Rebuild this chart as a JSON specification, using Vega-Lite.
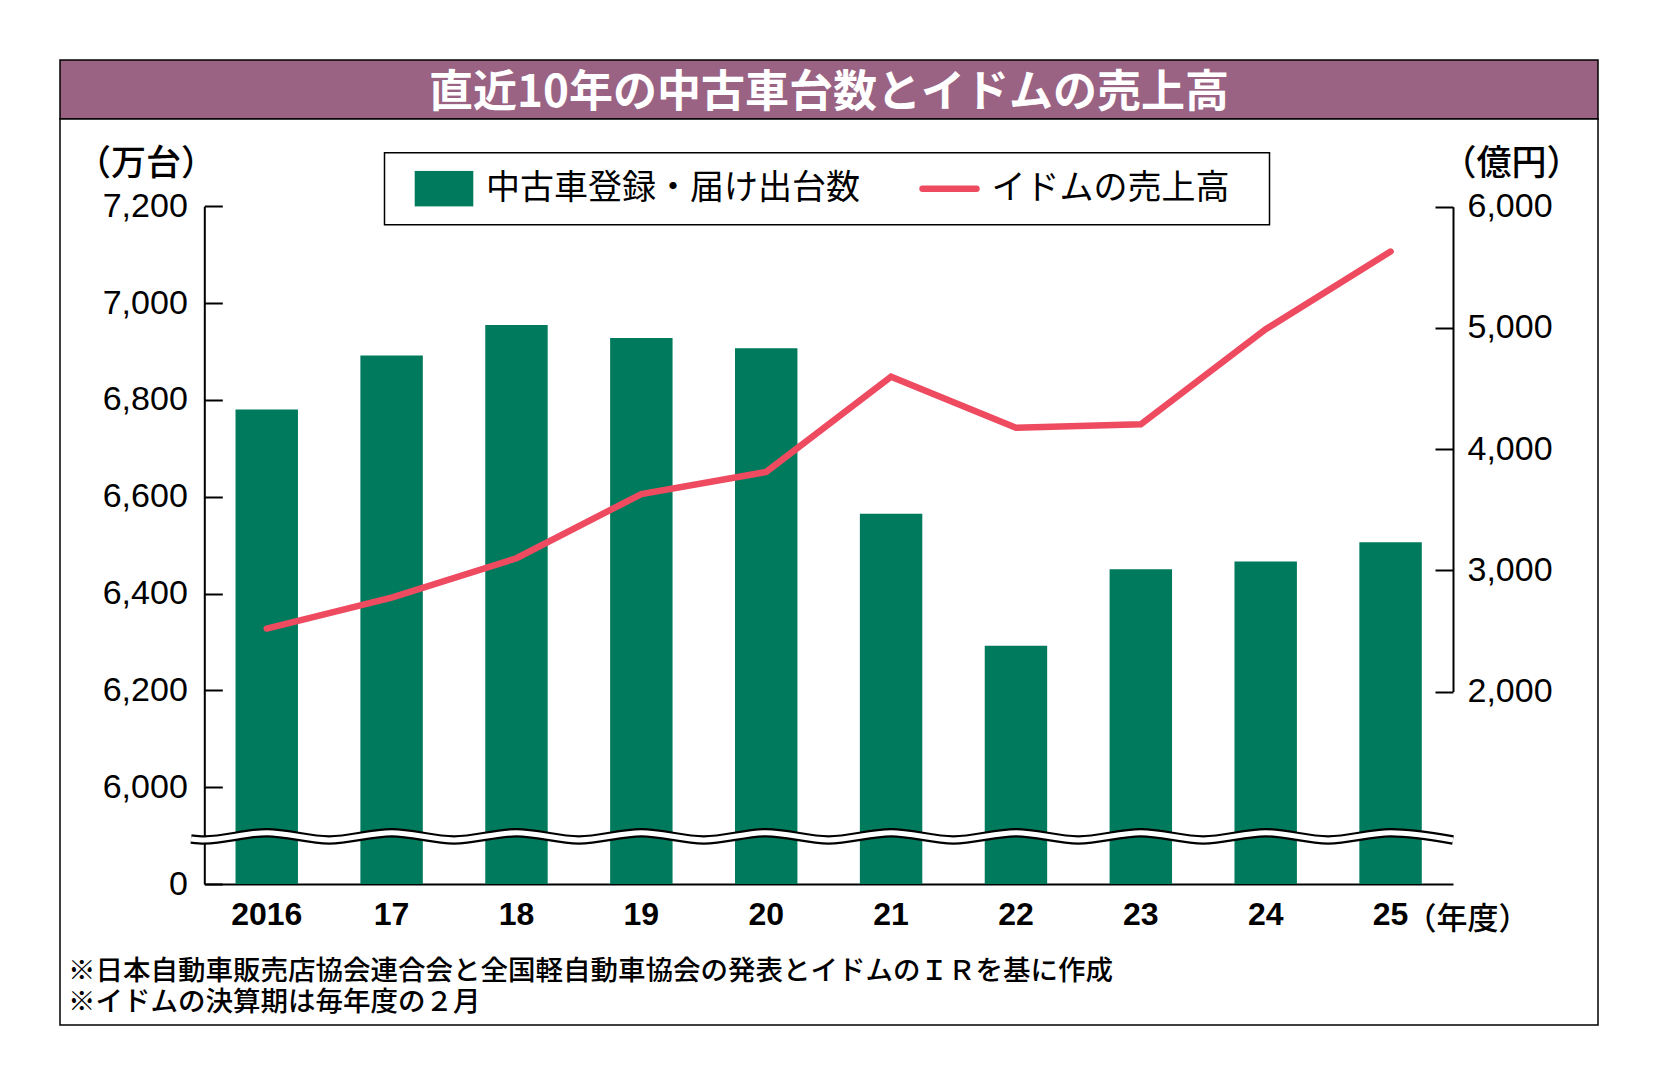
{
  "$schema": "https://vega.github.io/schema/vega-lite/v6.json",
  "background": "white",
  "padding": {"left": 59, "top": 59, "right": 57, "bottom": 63},
  "spacing": 0,
  "bounds": "flush",
  "resolve": {"scale": {"color": "independent"}, "legend": {"color": "independent"}},
  "config": {"font": "Noto Sans CJK JP", "view": {"stroke": null}},
  "vconcat": [
    {
      "width": 1538,
      "height": 59,
      "view": {"fill": "#9a6384", "stroke": "black", "strokeWidth": 1.5},
      "data": {"values": [{"t": "直近10年の中古車台数とイドムの売上高"}]},
      "mark": {
        "type": "text",
        "align": "center",
        "baseline": "middle",
        "dy": 4,
        "font": "Noto Sans CJK JP",
        "fontSize": 44,
        "fontWeight": "bold",
        "color": "white"
      },
      "encoding": {
        "x": {"datum": 0.5, "type": "quantitative", "scale": {"domain": [0, 1], "nice": false}, "axis": null},
        "y": {"datum": 0.5, "type": "quantitative", "scale": {"domain": [0, 1], "nice": false}, "axis": null},
        "text": {"field": "t"}
      }
    },
    {
      "width": 1538,
      "height": 906,
      "view": {"fill": "white", "stroke": "black", "strokeWidth": 1.5},
      "title": {
        "text": [
          "※日本自動車販売店協会連合会と全国軽自動車協会の発表とイドムのＩＲを基に作成",
          "※イドムの決算期は毎年度の２月"
        ],
        "orient": "bottom",
        "anchor": "start",
        "frame": "group",
        "offset": -67,
        "dx": 8,
        "baseline": "top",
        "font": "Liberation Sans, Noto Sans CJK JP",
        "fontSize": 27.5,
        "fontWeight": 500,
        "lineHeight": 31,
        "color": "black"
      },
      "data": {
        "values": [
          {"year": "2016", "cars": 6780, "sales": 2520},
          {"year": "2017", "cars": 6892, "sales": 2775},
          {"year": "2018", "cars": 6955, "sales": 3100},
          {"year": "2019", "cars": 6928, "sales": 3630},
          {"year": "2020", "cars": 6907, "sales": 3812},
          {"year": "2021", "cars": 6565, "sales": 4597},
          {"year": "2022", "cars": 6292, "sales": 4177},
          {"year": "2023", "cars": 6450, "sales": 4205},
          {"year": "2024", "cars": 6466, "sales": 4989},
          {"year": "2025", "cars": 6506, "sales": 5630}
        ]
      },
      "resolve": {"scale": {"x": "independent", "y": "independent"}},
      "layer": [
        {
          "mark": {"type": "bar"},
          "encoding": {
            "x": {
              "field": "year",
              "type": "nominal",
              "scale": {"type": "band", "range": [144.3, 1393], "paddingInner": 0.5, "paddingOuter": 0.25},
              "axis": {
                "orient": "bottom",
                "offset": -141,
                "ticks": false,
                "domainColor": "black",
                "domainWidth": 2,
                "labelAngle": 0,
                "labelExpr": "datum.label === '2016' ? '2016' : slice(datum.label, 2)",
                "labelFont": "Liberation Sans",
                "labelFontWeight": "bold",
                "labelFontSize": 32,
                "labelColor": "black",
                "labelPadding": 15,
                "labelFlush": false,
                "labelOverlap": false,
                "title": "（年度）",
                "titleX": 1407,
                "titleY": 35,
                "titleAlign": "center",
                "titleBaseline": "middle",
                "titleFont": "Noto Sans CJK JP",
                "titleFontSize": 31,
                "titleFontWeight": 500,
                "titleColor": "black"
              }
            },
            "y": {
              "field": "cars",
              "type": "quantitative",
              "scale": {"domain": [5800, 7200], "range": [765, 87.3], "zero": false, "nice": false},
              "axis": {
                "orient": "left",
                "offset": -144.3,
                "grid": false,
                "values": [5800, 6000, 6200, 6400, 6600, 6800, 7000, 7200],
                "labelExpr": "datum.value === 5800 ? '0' : format(datum.value, ',d')",
                "tickSize": -18,
                "tickWidth": 2,
                "tickColor": "black",
                "domainColor": "black",
                "domainWidth": 2,
                "labelFont": "Liberation Sans",
                "labelFontSize": 34,
                "labelColor": "black",
                "labelPadding": 35,
                "labelFlush": false,
                "labelOverlap": false,
                "title": "（万台）",
                "titleAngle": 0,
                "titleX": -58.8,
                "titleY": 44,
                "titleAlign": "center",
                "titleBaseline": "middle",
                "titleFont": "Noto Sans CJK JP",
                "titleFontSize": 35,
                "titleFontWeight": 500,
                "titleColor": "black"
              }
            },
            "y2": {"datum": 5800},
            "color": {
              "datum": "中古車登録・届け出台数",
              "type": "nominal",
              "scale": {"domain": ["中古車登録・届け出台数", "イドムの売上高"], "range": ["#007a5d", "#ee4b61"]},
              "legend": {
                "orient": "none",
                "legendX": 324.5,
                "legendY": 33.7,
                "direction": "horizontal",
                "title": "　",
                "titleOrient": "right",
                "titleFontSize": 10,
                "titlePadding": 22,
                "padding": 18,
                "symbolOffset": 8.5,
                "columnPadding": 47.5,
                "clipHeight": 36,
                "strokeColor": "black",
                "labelFont": "Noto Sans CJK JP",
                "labelFontSize": 34,
                "labelColor": "black",
                "labelLimit": 1000,
                "labelOffset": 9,
                "symbolSize": 3434,
                "symbolStrokeWidth": 6.5,
                "encode": {
                  "legend": {"update": {"strokeWidth": {"value": 1.5}}},
                  "symbols": {
                    "update": {
                      "shape": {"signal": "datum.value === 'イドムの売上高' ? 'M-0.92,0H0.92' : 'M-0.889,-0.498H0.889V0.498H-0.889Z'"},
                      "fill": {"signal": "datum.value === 'イドムの売上高' ? 'transparent' : '#007a5d'"},
                      "stroke": {"signal": "datum.value === 'イドムの売上高' ? '#ee4b61' : '#007a5d'"},
                      "strokeWidth": {"value": 6.5},
                      "strokeCap": {"value": "round"},
                      "opacity": {"value": 1}
                    }
                  }
                }
              }
            }
          }
        },
        {
          "data": {
            "values": [
              {"k": -0.606, "v": 5893},
              {"k": -0.5, "v": 5891},
              {"k": 0, "v": 5906},
              {"k": 0.5, "v": 5891},
              {"k": 1, "v": 5906},
              {"k": 1.5, "v": 5891},
              {"k": 2, "v": 5906},
              {"k": 2.5, "v": 5891},
              {"k": 3, "v": 5906},
              {"k": 3.5, "v": 5891},
              {"k": 4, "v": 5906},
              {"k": 4.5, "v": 5891},
              {"k": 5, "v": 5906},
              {"k": 5.5, "v": 5891},
              {"k": 6, "v": 5906},
              {"k": 6.5, "v": 5891},
              {"k": 7, "v": 5906},
              {"k": 7.5, "v": 5891},
              {"k": 8, "v": 5906},
              {"k": 8.5, "v": 5891},
              {"k": 9, "v": 5906},
              {"k": 9.5, "v": 5891}
            ]
          },
          "encoding": {
            "x": {"field": "k", "type": "quantitative", "scale": {"domain": [-0.5, 9.5], "range": [144.3, 1393], "zero": false, "nice": false}, "axis": null},
            "y": {"field": "v", "type": "quantitative", "scale": {"domain": [5800, 7200], "range": [765, 87.3], "zero": false, "nice": false}, "axis": null}
          },
          "layer": [
            {"mark": {"type": "line", "interpolate": "monotone", "color": "black", "strokeWidth": 9.5}},
            {"mark": {"type": "line", "interpolate": "monotone", "color": "white", "strokeWidth": 5}}
          ]
        },
        {
          "mark": {"type": "line", "strokeWidth": 6.5, "strokeCap": "round"},
          "encoding": {
            "x": {
              "field": "year",
              "type": "nominal",
              "scale": {"type": "band", "range": [144.3, 1393], "paddingInner": 0.5, "paddingOuter": 0.25},
              "axis": null
            },
            "y": {
              "field": "sales",
              "type": "quantitative",
              "scale": {"domain": [2000, 6000], "range": [572.6, 87.7], "zero": false, "nice": false},
              "axis": {
                "orient": "right",
                "offset": -145,
                "grid": false,
                "values": [2000, 3000, 4000, 5000, 6000],
                "labelExpr": "format(datum.value, ',d')",
                "tickSize": -18,
                "tickWidth": 2,
                "tickColor": "black",
                "domainColor": "black",
                "domainWidth": 2,
                "labelFont": "Liberation Sans",
                "labelFontSize": 34,
                "labelColor": "black",
                "labelPadding": 32,
                "labelFlush": false,
                "labelOverlap": false,
                "title": "（億円）",
                "titleAngle": 0,
                "titleX": 58,
                "titleY": 44,
                "titleAlign": "center",
                "titleBaseline": "middle",
                "titleFont": "Noto Sans CJK JP",
                "titleFontSize": 35,
                "titleFontWeight": 500,
                "titleColor": "black"
              }
            },
            "color": {"datum": "イドムの売上高", "type": "nominal"}
          }
        }
      ]
    }
  ]
}
